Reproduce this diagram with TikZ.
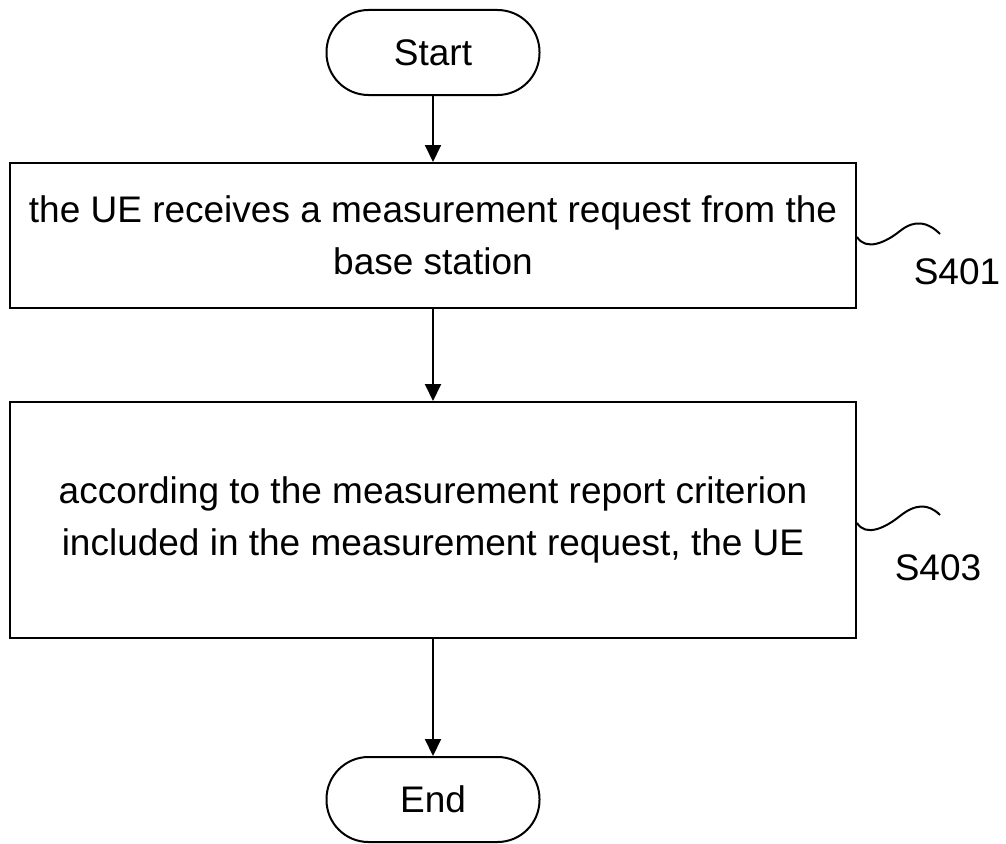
\documentclass[tikz,border=0pt]{standalone}
\usepackage{fontspec}
\setmainfont{Liberation Sans}
\usetikzlibrary{arrows.meta,calc}
\begin{document}
\begin{tikzpicture}[x=1pt,y=-1pt, font=\fontsize{37}{52}\selectfont, line width=2pt,
 term/.style={draw, rounded corners=42pt, minimum width=213pt, minimum height=85pt, inner sep=0pt},
 proc/.style={draw, minimum width=846pt, align=center, inner sep=0pt},
 arr/.style={-{Triangle[length=17pt,width=16pt]}},
 squig/.style={line width=2pt},
 lab/.style={inner sep=0pt}]
\useasboundingbox (0,0) rectangle (1006,843);
\node[term] (start) at (433,52.5) {Start};
\node[proc, minimum height=145pt] (s1) at (433,235.5) {the UE receives a measurement request from the\\base station};
\node[proc, minimum height=236pt] (s2) at (433,520) {according to the measurement report criterion\\included in the measurement request, the UE};
\node[term] (end) at (433,799.5) {End};
\draw[arr] (start) -- (s1);
\draw[arr] (s1) -- (s2);
\draw[arr] (s2) -- (end);
\coordinate (c1) at (940,234);
\coordinate (c2) at (940,515);
\draw[squig] ($(s1.east)+(0,1.5)$) .. controls (866,251) and (885,243) .. (900,231) .. controls (915,219) and (928,222) .. (c1);
\draw[squig] ($(s2.east)+(0,3)$) .. controls (866,537) and (885,528) .. (900,516) .. controls (915,504) and (928,503) .. (c2);
\node[lab] (l1) at (957,272) {S401};
\node[lab] (l2) at (938,568) {S403};
\end{tikzpicture}
\end{document}
